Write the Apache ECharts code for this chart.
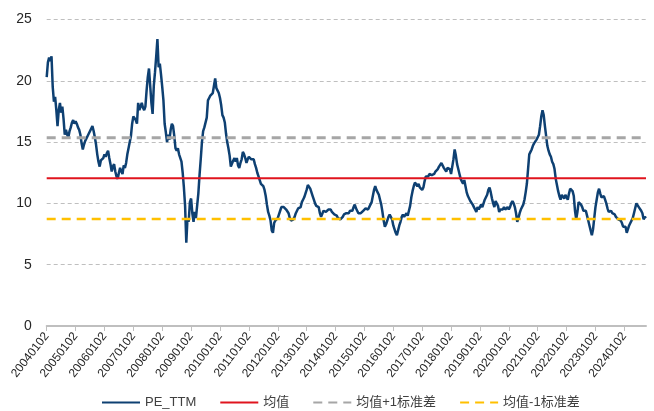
<!DOCTYPE html>
<html>
<head>
<meta charset="utf-8">
<script src="https://cdn.jsdelivr.net/npm/echarts@6/dist/echarts.min.js"></script>
<style>
html,body{margin:0;padding:0;background:#fff;}
#chart{width:654px;height:411px;}
</style>
</head>
<body>
<div id="chart"></div>
<script>
// PE_TTM, two readings per month (around the 2nd and 16th)
const pe2004 = [20.3,21.5,21.9,21.6,22.0,19.5,18.3,18.7,17.6,16.3,17.6,18.2,17.4,17.9,16.9,15.6,16.0,15.6,15.4,15.9,16.2,16.6,16.8,16.5];
const pe2005 = [16.7,16.5,16.2,16.0,15.6,14.9,14.4,14.8,15.1,15.3,15.5,15.7,15.8,16.1,16.3,15.9,15.4,14.8,14.0,13.4,13.0,13.5,13.4,13.7];
const pe2006 = [14.0,13.8,14.1,14.3,13.7,13.2,12.6,13.0,13.2,12.6,12.2,12.0,12.5,12.9,12.6,12.4,13.1,12.9,13.3,14.0,14.5,15.0,15.5,16.5];
const pe2007 = [17.1,17.0,16.8,16.5,18.2,17.6,17.5,18.2,17.8,17.6,17.9,19.2,20.3,21.0,19.6,18.2,17.3,19.6,20.7,22.0,23.4,21.1,21.4,20.5];
const pe2008 = [19.5,18.4,16.5,15.8,15.0,15.6,15.2,16.0,16.5,16.3,15.5,14.5,14.3,14.5,14.0,13.9,13.4,12.5,11.3,9.8,6.8,8.8,8.5,10.1];
const pe2009 = [10.4,9.2,8.5,9.3,8.8,8.7,10.8,12.3,13.6,15.0,15.9,16.2,16.2,17.0,18.4,18.6,18.8,18.7,19.0,19.6,20.2,19.4,19.3,19.0];
const pe2010 = [18.6,18.0,17.2,17.0,16.6,15.7,15.0,14.5,13.9,13.0,13.1,13.5,13.7,13.4,13.7,13.1,12.9,13.3,13.6,14.2,14.0,13.7,13.3,13.6];
const pe2011 = [13.8,13.9,13.6,13.6,13.6,13.2,12.9,12.5,12.2,11.9,11.6,11.5,11.4,11.1,10.6,9.9,9.3,9.0,8.6,7.8,7.6,8.4,8.6,8.6];
const pe2012 = [8.8,9.1,9.4,9.7,9.8,9.7,9.7,9.5,9.4,9.2,8.8,8.6,8.6,8.7,8.9,9.2,9.4,9.6,9.5,9.7,10.1,10.3,10.5,10.8];
const pe2013 = [11.1,11.5,11.4,11.2,10.9,10.6,10.3,10.0,9.8,9.9,9.7,9.2,8.9,9.0,9.4,9.5,9.3,9.2,9.5,9.6,9.5,9.3,9.3,9.1];
const pe2014 = [9.0,9.0,8.8,8.9,8.7,8.7,8.9,9.1,9.0,9.2,9.3,9.2,9.4,9.5,9.4,9.7,9.9,9.6,9.4,9.2,9.1,9.2,9.3,9.4];
const pe2015 = [9.5,9.6,9.6,9.5,9.7,9.8,10.1,10.6,11.1,11.4,11.1,10.9,10.7,10.3,9.9,9.3,8.6,8.1,8.3,8.6,8.9,9.1,9.0,8.7];
const pe2016 = [8.2,7.9,7.6,7.4,7.8,8.2,8.5,8.9,9.1,8.9,9.0,9.2,9.0,9.4,9.8,10.5,11.0,11.4,11.7,11.6,11.4,11.6,11.3,11.2];
const pe2017 = [11.1,11.3,11.8,12.2,12.3,12.2,12.4,12.5,12.3,12.2,12.4,12.6,12.6,12.8,13.0,13.0,13.3,13.2,12.9,12.8,12.6,12.9,13.0,12.8];
const pe2018 = [12.4,13.0,13.6,14.4,13.9,13.2,12.8,12.4,12.0,11.8,11.6,11.9,11.4,10.9,10.6,10.4,10.2,10.2,9.9,9.7,9.5,9.3,9.7,9.5];
const pe2019 = [9.7,9.9,9.7,10.0,10.3,10.4,10.7,11.1,11.3,10.9,10.4,10.0,9.7,10.2,10.1,9.8,9.3,9.5,9.6,9.5,9.7,9.5,9.4,9.7];
const pe2020 = [9.5,9.7,10.0,10.2,10.0,9.7,9.2,8.5,8.8,9.2,9.5,9.6,9.9,10.3,10.9,11.6,12.8,14.0,14.2,14.4,14.7,14.9,15.0,15.2];
const pe2021 = [15.3,15.6,16.3,17.1,17.6,17.2,16.3,15.5,14.7,14.3,14.0,13.8,13.4,13.2,12.8,12.0,11.5,11.0,10.6,10.3,10.7,10.8,10.4,10.7];
const pe2022 = [10.5,10.3,10.8,11.2,11.3,11.0,10.6,9.4,8.7,9.3,10.1,10.1,9.9,9.7,9.4,9.4,9.4,9.0,8.6,8.2,7.8,7.4,7.9,8.8];
const pe2023 = [9.7,10.3,10.9,11.2,10.8,10.5,10.4,10.6,10.3,10.0,9.6,9.3,9.4,9.4,9.2,9.3,9.1,8.9,9.0,8.7,8.6,8.6,8.4,8.1];
const pe2024 = [8.0,8.1,7.6,7.9,8.2,8.4,8.5,8.8,9.2,9.6,10.0,10.1,9.7,9.6,9.4,9.2,8.7,8.9,8.8];

const years = ['2004','2005','2006','2007','2008','2009','2010','2011','2012','2013','2014','2015','2016','2017','2018','2019','2020','2021','2022','2023','2024'];
const peByYear = [pe2004,pe2005,pe2006,pe2007,pe2008,pe2009,pe2010,pe2011,pe2012,pe2013,pe2014,pe2015,pe2016,pe2017,pe2018,pe2019,pe2020,pe2021,pe2022,pe2023,pe2024];

// tick labels shown on the x axis
const tickLabels = ['20040102','20050102','20060102','20070102','20080102','20090102','20100102','20110102','20120102','20130102','20140102','20150102','20160102','20170102','20180102','20190102','20200102','20210102','20220102','20230102','20240102'];

// reference levels
const meanVal = 12.05;
const plus1Std = 15.36;
const minus1Std = 8.73;

// build the category list (dates) and the value list
const categories = [];
const peTTM = [];
years.forEach(function (y, yi) {
  peByYear[yi].forEach(function (v, k) {
    const m = String(Math.floor(k / 2) + 1).padStart(2, '0');
    const d = (k % 2 === 0) ? '02' : '16';
    categories.push(y + m + d);
    peTTM.push(v);
  });
});
const firstCat = categories[0];
const lastCat = categories[categories.length - 1];
const isTick = function (idx, val) { return tickLabels.indexOf(val) >= 0; };

const chart = echarts.init(document.getElementById('chart'), null, {renderer: 'canvas'});
const textFont = '"Liberation Sans", Arial, "Noto Sans CJK SC", sans-serif';
chart.setOption({
  animation: false,
  backgroundColor: '#ffffff',
  grid: {left: 46.7, right: 8, top: 19.5, bottom: 85, containLabel: false},
  legend: {
    left: 96, top: 391,
    itemWidth: 38, itemHeight: 14, itemGap: 23,
    itemStyle: {opacity: 0},
    textStyle: {fontSize: 13, color: '#404040', fontFamily: '"Liberation Sans", "Noto Sans CJK SC", sans-serif'},
    data: ['PE_TTM', '均值', '均值+1标准差', '均值-1标准差']
  },
  xAxis: {
    type: 'category',
    data: categories,
    boundaryGap: false,
    axisLine: {show: true, lineStyle: {color: '#bfbfbf', width: 2}},
    axisTick: {show: true, interval: isTick, length: 5, lineStyle: {color: '#bfbfbf', width: 1}},
    axisLabel: {
      interval: isTick, rotate: 52, margin: 8,
      fontSize: 12, color: '#262626', fontFamily: textFont
    },
    splitLine: {show: false}
  },
  yAxis: {
    type: 'value',
    min: 0, max: 25, interval: 5,
    axisLine: {show: false},
    axisTick: {show: false},
    axisLabel: {fontSize: 14, color: '#262626', margin: 15, fontFamily: textFont},
    splitLine: {show: true, lineStyle: {color: '#bfbfbf', type: [4, 3], width: 1}}
  },
  series: [
    {
      name: 'PE_TTM', type: 'line', data: peTTM, symbol: 'none', smooth: false,
      lineStyle: {color: '#0e4072', width: 2.5}, itemStyle: {color: '#0e4072'}
    },
    {
      name: '均值', type: 'line', symbol: 'none',
      data: [[firstCat, meanVal], [lastCat, meanVal]],
      lineStyle: {color: '#e0141e', width: 2}, itemStyle: {color: '#e0141e'}
    },
    {
      name: '均值+1标准差', type: 'line', symbol: 'none',
      data: [[firstCat, plus1Std], [lastCat, plus1Std]],
      lineStyle: {color: '#a6a6a6', width: 3, type: [9, 6]}, itemStyle: {color: '#a6a6a6'}
    },
    {
      name: '均值-1标准差', type: 'line', symbol: 'none',
      data: [[firstCat, minus1Std], [lastCat, minus1Std]],
      lineStyle: {color: '#ffc000', width: 2.5, type: [9, 6]}, itemStyle: {color: '#ffc000'}
    }
  ]
});
</script>
</body>
</html>
